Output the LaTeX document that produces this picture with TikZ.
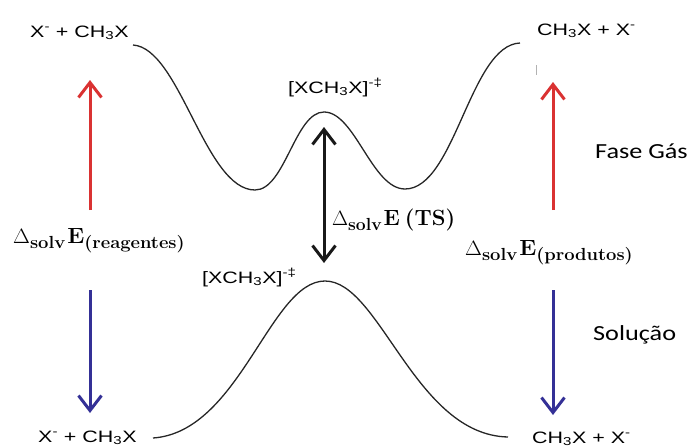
\documentclass[tikz,border=0pt]{standalone}
\usepackage{fontspec}
\usepackage{graphicx}
\usetikzlibrary{arrows.meta}
\newfontfamily\chemf[FakeStretch=1.3]{Liberation Sans}
\newfontfamily\phasef[FakeStretch=1.22]{Carlito}
\definecolor{redarr}{RGB}{218,50,50}
\definecolor{bluearr}{RGB}{52,48,150}
\newcommand{\mainsz}{\fontsize{22}{25}\selectfont}
\newcommand{\subsz}{\fontsize{17.5}{20}\selectfont\bfseries}
\newcommand{\dsolvE}{{\mainsz$\Delta$}\raisebox{-5pt}{\subsz solv}\hspace{2pt}{\mainsz\bfseries E}}
\tikzset{
  chem/.style={font=\chemf\fontsize{16.5}{18}\selectfont, inner sep=0pt, anchor=base west},
  phase/.style={font=\phasef\fontsize{21.5}{24}\selectfont, inner sep=0pt, anchor=base west},
  dlabel/.style={inner sep=0pt, anchor=base west},
  curve/.style={line width=1.3pt, black!85},
  barb/.tip={Straight Barb[length=15pt,width=23pt]},
  bigarrow/.style={line width=3pt, -barb},
  dblarrow/.style={line width=3pt, barb-barb},
}
\begin{document}
\begin{tikzpicture}[x=1pt,y=-1pt]
\useasboundingbox (0,0) rectangle (689,447);
% labels
\node[chem] (tl) at (30,37) {X\textsuperscript{-} + CH\textsubscript{3}X};
\node[chem] (tr) at (537,35) {CH\textsubscript{3}X + X\textsuperscript{-}};
\node[chem] (tsg) at (288,93) {[XCH\textsubscript{3}X]\textsuperscript{-‡}};
\node[chem] (tss) at (202,283) {[XCH\textsubscript{3}X]\textsuperscript{-‡}};
\node[chem] (bl) at (38,442) {X\textsuperscript{-} + CH\textsubscript{3}X};
\node[chem] (br) at (532,443) {CH\textsubscript{3}X + X\textsuperscript{-}};
\node[phase] (gas) at (595,158) {Fase Gás};
\node[phase] (sol) at (593,340) {Solução};
\node[dlabel] (dre) at (13,243) {\scalebox{1.05}[1]{\dsolvE\raisebox{-5pt}{\subsz (reagentes)}}};
\node[dlabel] (dpr) at (465,255) {\scalebox{1.05}[1]{\dsolvE\raisebox{-5pt}{\subsz (produtos)}}};
\node[dlabel] (dts) at (332,225) {\dsolvE\hspace{5pt}{\mainsz\bfseries (TS)}};
% curve points
\coordinate (g0) at (133,45);
\coordinate (g1) at (255,190);
\coordinate (g2) at (324,112);
\coordinate (g3) at (405,189);
\coordinate (g4) at (520,43);
\coordinate (s0) at (153,438);
\coordinate (s1) at (325,281);
\coordinate (s2) at (508,437);
\draw[curve] (g0) .. controls (180,48) and (205,190) .. (g1)
  .. controls (285,190) and (295,112) .. (g2)
  .. controls (355,112) and (372,189) .. (g3)
  .. controls (455,189) and (470,45) .. (g4);
\draw[curve] (s0) .. controls (240,432) and (270,281) .. (s1)
  .. controls (380,281) and (415,435) .. (s2);
% arrows
\coordinate (rl0) at (90,210); \coordinate (rl1) at (90,80);
\coordinate (rr0) at (553,210); \coordinate (rr1) at (553,82);
\coordinate (bl0) at (90,290); \coordinate (bl1) at (90,413);
\coordinate (br0) at (553,290); \coordinate (br1) at (553,415);
\coordinate (k0) at (324,127); \coordinate (k1) at (324,263);
\draw[bigarrow, redarr] (rl0) -- (rl1);
\draw[bigarrow, redarr] (rr0) -- (rr1);
\draw[bigarrow, bluearr] (bl0) -- (bl1);
\draw[bigarrow, bluearr] (br0) -- (br1);
\draw[dblarrow, black!90] (k0) -- (k1);
% small tick mark
\coordinate (m0) at (536,65); \coordinate (m1) at (536,75);
\draw[gray!60, line width=0.8pt] (m0) -- (m1);
\end{tikzpicture}
\end{document}
